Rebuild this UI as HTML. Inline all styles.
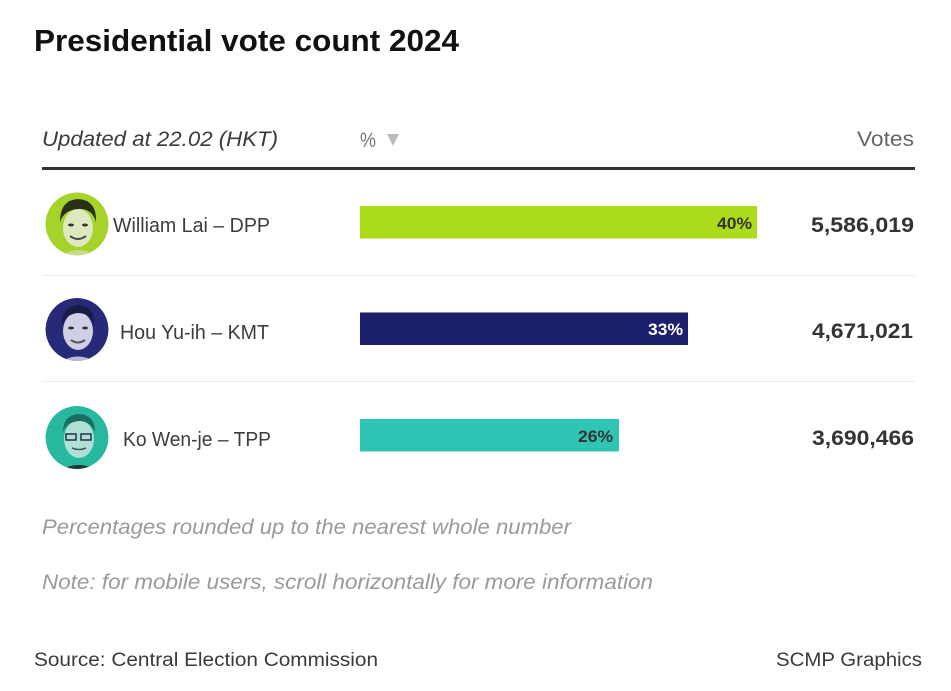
<!DOCTYPE html>
<html><head><meta charset="utf-8"><style>
html,body{margin:0;padding:0;background:#fff;}
svg{display:block;}
text{font-family:"Liberation Sans",sans-serif;}
</style></head><body>
<svg width="951" height="691" viewBox="0 0 951 691" xmlns="http://www.w3.org/2000/svg">
<rect width="951" height="691" fill="#fff"/>
<!-- Title -->
<text x="34" y="51" font-size="31" font-weight="bold" fill="#111" textLength="425" lengthAdjust="spacingAndGlyphs">Presidential vote count 2024</text>

<!-- Header -->
<text x="42" y="146" font-size="21" font-style="italic" fill="#3a3a3a" textLength="236" lengthAdjust="spacingAndGlyphs">Updated at 22.02 (HKT)</text>
<text x="360" y="147" font-size="21" fill="#777" textLength="16" lengthAdjust="spacingAndGlyphs">%</text>
<polygon points="387,134 399,134 393,146" fill="#bbb"/>
<text x="914" y="146" font-size="21" fill="#666" text-anchor="end" textLength="57" lengthAdjust="spacingAndGlyphs">Votes</text>
<rect x="42" y="167" width="873" height="3" fill="#333"/>

<!-- separators -->
<rect x="42" y="275" width="873" height="1" fill="#ebebeb"/>
<rect x="42" y="381" width="873" height="1" fill="#ebebeb"/>

<defs>
<clipPath id="c1"><circle cx="77" cy="224" r="31.5"/></clipPath>
<clipPath id="c2"><circle cx="77" cy="329.5" r="31.5"/></clipPath>
<clipPath id="c3"><circle cx="77" cy="437.5" r="31.5"/></clipPath>
</defs>
<!-- Avatar 1 -->
<g clip-path="url(#c1)">
<circle cx="77" cy="224" r="31.5" fill="#a6d32a"/>
<ellipse cx="78" cy="228" rx="15" ry="19" fill="#dfe9c0"/>
<path d="M60,222 Q60,200 78,199 Q97,200 96,222 Q92,208 78,209 Q64,210 60,222Z" fill="#2a3018"/>
<path d="M58,258 Q78,242 100,258Z" fill="#c6dc8c"/>
<ellipse cx="71" cy="225" rx="3" ry="1.5" fill="#333"/>
<ellipse cx="85" cy="225" rx="3" ry="1.5" fill="#333"/>
<path d="M70,236 Q78,242 86,236" stroke="#444" stroke-width="2" fill="none"/>
</g>
<!-- Avatar 2 -->
<g clip-path="url(#c2)">
<circle cx="77" cy="329.5" r="31.5" fill="#262a78"/>
<ellipse cx="78" cy="331" rx="15" ry="19" fill="#cfd0e6"/>
<path d="M62,325 Q62,306 78,305 Q95,306 94,325 Q90,313 78,313 Q66,314 62,325Z" fill="#1a1c48"/>
<path d="M56,365 Q78,348 100,365Z" fill="#b9bbd9"/>
<ellipse cx="71" cy="328" rx="3" ry="1.5" fill="#333"/>
<ellipse cx="85" cy="328" rx="3" ry="1.5" fill="#333"/>
<path d="M71,340 Q78,345 85,340" stroke="#555" stroke-width="2" fill="none"/>
</g>
<!-- Avatar 3 -->
<g clip-path="url(#c3)">
<circle cx="77" cy="437.5" r="31.5" fill="#27b8a0"/>
<ellipse cx="79" cy="439" rx="15" ry="19" fill="#b0e0d5"/>
<path d="M63,432 Q63,415 79,414 Q95,415 95,432 Q90,421 79,421 Q67,422 63,432Z" fill="#1d6e60"/>
<path d="M56,473 Q78,457 102,473Z" fill="#1f3a36"/>
<rect x="66" y="434" width="10" height="6" fill="none" stroke="#234" stroke-width="1.5"/>
<rect x="81" y="434" width="10" height="6" fill="none" stroke="#234" stroke-width="1.5"/>
<path d="M72,448 Q79,451 86,448" stroke="#456" stroke-width="1.5" fill="none"/>
</g>

<!-- Names -->
<text x="113" y="232" font-size="20" fill="#3c3c3c" textLength="157" lengthAdjust="spacingAndGlyphs">William Lai – DPP</text>
<text x="120" y="339" font-size="20" fill="#3c3c3c" textLength="149" lengthAdjust="spacingAndGlyphs">Hou Yu-ih – KMT</text>
<text x="123" y="446" font-size="20" fill="#3c3c3c" textLength="148" lengthAdjust="spacingAndGlyphs">Ko Wen-je – TPP</text>

<!-- Bars -->
<rect x="360" y="206" width="397" height="32.5" fill="#acdb1b"/>
<rect x="360" y="312.5" width="328" height="32.5" fill="#1c1f6c"/>
<rect x="360" y="419" width="259" height="32.5" fill="#2ec5b5"/>
<text x="752" y="229" font-size="17" font-weight="bold" fill="#333" text-anchor="end" textLength="35" lengthAdjust="spacingAndGlyphs">40%</text>
<text x="683" y="335" font-size="17" font-weight="bold" fill="#fff" text-anchor="end" textLength="35" lengthAdjust="spacingAndGlyphs">33%</text>
<text x="613" y="442" font-size="17" font-weight="bold" fill="#333" text-anchor="end" textLength="35" lengthAdjust="spacingAndGlyphs">26%</text>

<!-- Votes -->
<text x="914" y="232" font-size="21" font-weight="bold" fill="#333" text-anchor="end" textLength="103" lengthAdjust="spacingAndGlyphs">5,586,019</text>
<text x="913" y="338" font-size="21" font-weight="bold" fill="#333" text-anchor="end" textLength="101" lengthAdjust="spacingAndGlyphs">4,671,021</text>
<text x="914" y="445" font-size="21" font-weight="bold" fill="#333" text-anchor="end" textLength="102" lengthAdjust="spacingAndGlyphs">3,690,466</text>

<!-- Footnotes -->
<text x="42" y="534" font-size="21" font-style="italic" fill="#9a9a9a" textLength="529" lengthAdjust="spacingAndGlyphs">Percentages rounded up to the nearest whole number</text>
<text x="42" y="589" font-size="21" font-style="italic" fill="#9a9a9a" textLength="611" lengthAdjust="spacingAndGlyphs">Note: for mobile users, scroll horizontally for more information</text>

<text x="34" y="666" font-size="19" fill="#3a3a3a" textLength="344" lengthAdjust="spacingAndGlyphs">Source: Central Election Commission</text>
<text x="922" y="666" font-size="19" fill="#3a3a3a" text-anchor="end" textLength="146" lengthAdjust="spacingAndGlyphs">SCMP Graphics</text>
</svg>
</body></html>
